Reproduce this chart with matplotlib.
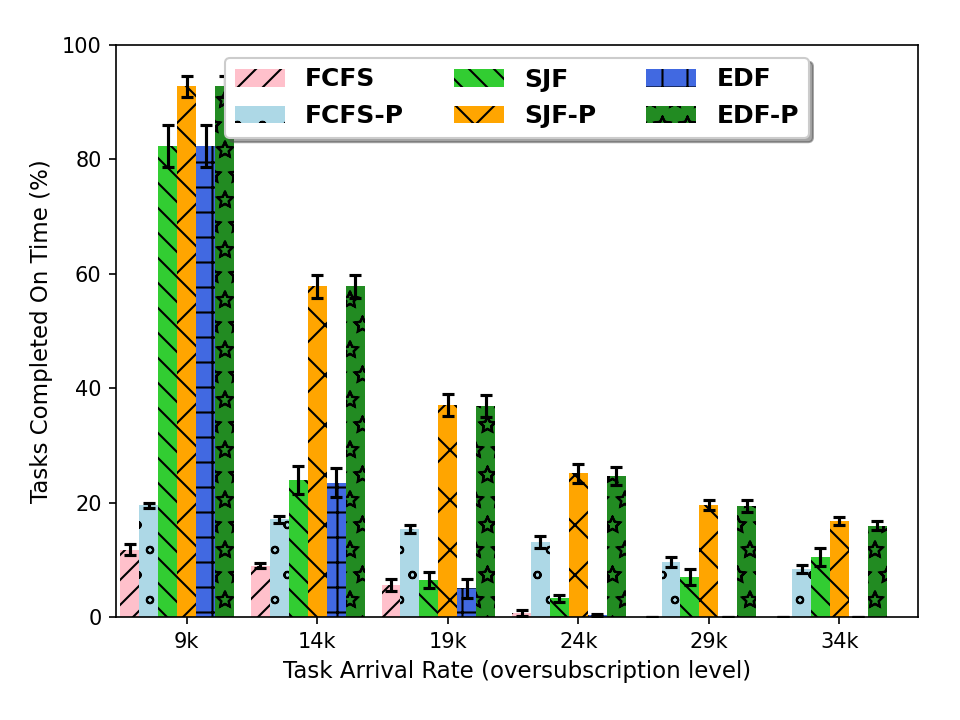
import numpy as np
import matplotlib
matplotlib.use("Agg")
import matplotlib.pyplot as plt
import matplotlib.hatch as mhatch

# Task arrival rates (x groups)
rates = ["9k", "14k", "19k", "24k", "29k", "34k"]

# Tasks completed on time (%) and error bars per scheduler
fcfs = [11.8, 9.0, 5.6, 0.7, 0.0, 0.0]
fcfs_err = [0.9, 0.4, 1.0, 0.5, 0.0, 0.0]
fcfs_p = [19.5, 17.1, 15.4, 13.1, 9.6, 8.4]
fcfs_p_err = [0.5, 0.6, 0.7, 1.0, 0.9, 0.7]
sjf = [82.3, 23.9, 6.5, 3.3, 7.0, 10.5]
sjf_err = [3.7, 2.45, 1.45, 0.6, 1.4, 1.65]
sjf_p = [92.8, 57.8, 37.1, 25.1, 19.6, 16.8]
sjf_p_err = [1.85, 2.0, 1.9, 1.6, 0.9, 0.75]
edf = [82.3, 23.5, 5.0, 0.35, 0.0, 0.0]
edf_err = [3.7, 2.5, 1.7, 0.2, 0.0, 0.0]
edf_p = [92.8, 57.8, 36.9, 24.6, 19.4, 16.0]
edf_p_err = [1.85, 2.0, 1.9, 1.6, 1.1, 0.8]

series = [
    ("FCFS", fcfs, fcfs_err, "pink", "//"),
    ("FCFS-P", fcfs_p, fcfs_p_err, "lightblue", "o"),
    ("SJF", sjf, sjf_err, "limegreen", "\\\\"),
    ("SJF-P", sjf_p, sjf_p_err, "orange", "x"),
    ("EDF", edf, edf_err, "royalblue", "+"),
    ("EDF-P", edf_p, edf_p_err, "forestgreen", "*"),
]

# old-style hatches: hollow stars, small circles
mhatch.Stars.filled = False
mhatch.SmallCircles.size = 0.13
plt.rcParams["hatch.linewidth"] = 1.0

fig = plt.figure(figsize=(6.4, 4.8), dpi=150)
ax = fig.add_axes([0.121, 0.143, 0.835, 0.7945])

x = np.arange(len(rates))
w = 0.145
for i, (name, vals, err, color, hatch) in enumerate(series):
    ax.bar(x + (i - 3) * w, vals, w, yerr=err, color=color, hatch=hatch,
           edgecolor="black", linewidth=0, label=name,
           error_kw=dict(ecolor="black", capsize=3, elinewidth=1.5, capthick=1.5))

ax.set_xticks(x)
ax.set_xticklabels(rates)
ax.set_xlim(-0.54, 5.6)
ax.set_ylim(0, 100)
ax.set_yticks(range(0, 101, 20))
ax.tick_params(labelsize=10)
ax.set_xlabel("Task Arrival Rate (oversubscription level)", fontsize=11)
ax.set_ylabel("Tasks Completed On Time (%)", fontsize=11)

ax.legend(loc="upper center", ncol=3, shadow=True, fancybox=True, framealpha=1,
          prop={"weight": "bold", "size": 12})

plt.savefig("out.png", dpi=150)
